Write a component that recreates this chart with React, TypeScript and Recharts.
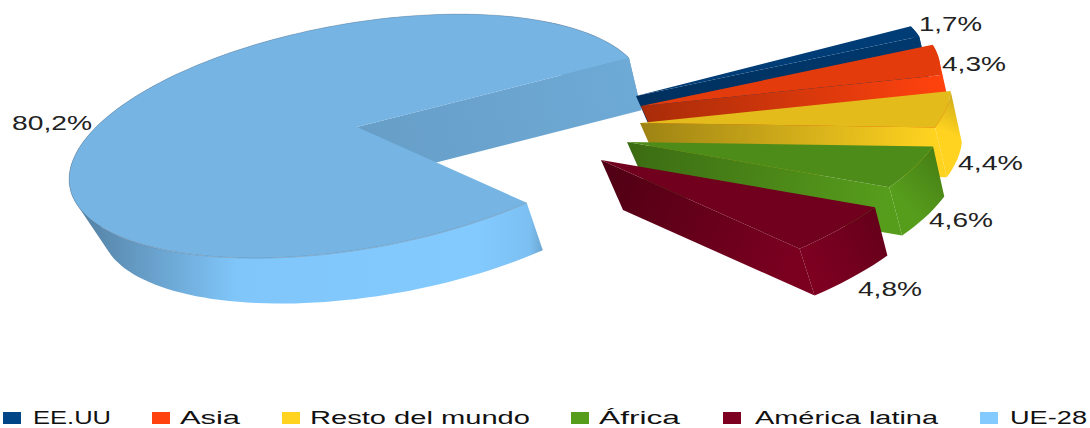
import React from "react";
import { PieChart, Pie, Cell, Legend } from "recharts";

// Pie order starts with the big slice so it paints behind the exploded ones
const categories = ["UE-28", "EE.UU", "Asia", "Resto del mundo", "África", "América latina"];
const shares = [80.2, 1.7, 4.3, 4.4, 4.6, 4.8];
const colors = ["#83caff", "#004586", "#ff420e", "#ffd320", "#579d1c", "#7e0021"];
const legendOrder = [1, 2, 3, 4, 5, 0];

const WIDTH = 1090;
const HEIGHT = 428;
const FONT = "'Liberation Sans', Arial, sans-serif";

// tilted disc: screen vector for the unit x axis and y axis, plus a little perspective
const TILT_C = -0.15;
const TILT_D = 0.395;
const PERSPECTIVE = 0.08;
const EXTRUDE = { x: 22, y: 50 };
const BOTTOM_SCALE = 0.965;

// explosion per slice, in the same order as categories
const explodeX = [0, 279, 284, 283, 270, 244];
const explodeY = [0, -31, -21, -4, 15, 33];
const explodeScale = [1, 1.01, 1.04, 1.08, 1.12, 1.17];

// wall gradient from apex to rim, as brightness factors
const wallFrom = [0.78, 0.7, 0.66, 0.62, 0.68, 0.62];
const wallTo = [0.84, 0.82, 1, 1, 1, 0.98];

// label box: left, baseline, width
const labelLeft = [12, 919, 942, 958, 929, 858];
const labelBase = [130, 31, 71, 170, 227, 296];
const labelWidth = [80, 63, 64, 65, 64, 64];

// legend boxes: swatch left and text span
const swatchLeft = [3, 152, 282, 571, 723, 980];
const legendTextLeft = [33, 180, 310, 599, 755, 1010];
const legendTextWidth = [78, 60, 220, 81, 183, 77];

const shade = (hex: string, f: number) => {
  const n = parseInt(hex.slice(1), 16);
  const ch = (v: number) => Math.min(255, Math.round(v * f));
  return `rgb(${ch((n >> 16) & 255)},${ch((n >> 8) & 255)},${ch(n & 255)})`;
};

type Pt = { x: number; y: number };

const polyD = (pts: Pt[], close = true) =>
  "M" + pts.map((p) => `${p.x.toFixed(1)},${p.y.toFixed(1)}`).join("L") + (close ? "Z" : "");

const SliceShape = (props: any) => {
  const { cx, cy, outerRadius, startAngle, endAngle, index } = props;
  const color = colors[index];
  const ox = cx + explodeX[index];
  const oy = cy + explodeY[index];
  const R = outerRadius * explodeScale[index];

  const rimPoint = (deg: number): Pt => {
    const a = (deg * Math.PI) / 180;
    const u = Math.cos(a);
    const v = -Math.sin(a);
    const w = 1 - PERSPECTIVE * v;
    return { x: (R * u) / w, y: (R * (TILT_C * u + TILT_D * v)) / w };
  };
  const top = (p: Pt): Pt => ({ x: ox + p.x, y: oy + p.y });
  const low = (p: Pt): Pt => ({
    x: ox + EXTRUDE.x + p.x * BOTTOM_SCALE,
    y: oy + EXTRUDE.y + p.y * BOTTOM_SCALE,
  });

  const steps = Math.max(8, Math.ceil(Math.abs(endAngle - startAngle) / 2));
  const rim: Pt[] = [];
  for (let i = 0; i <= steps; i++) {
    rim.push(rimPoint(startAngle + ((endAngle - startAngle) * i) / steps));
  }
  const centre = { x: 0, y: 0 };

  // outer side as one quad per step, all wound the same way so the tangent edges fill in
  let bandD = "";
  for (let i = 0; i < steps; i++) {
    const quad = [top(rim[i]), top(rim[i + 1]), low(rim[i + 1]), low(rim[i])];
    let area = 0;
    quad.forEach((p, k) => {
      const q = quad[(k + 1) % 4];
      area += p.x * q.y - q.x * p.y;
    });
    bandD += polyD(area < 0 ? [...quad].reverse() : quad);
  }

  const mid = rim[Math.floor(steps / 2)];
  const cross = (a: Pt, b: Pt) => a.x * b.y - a.y * b.x;
  // a side wall shows only when the extrusion points away from the slice body
  const wallShows = (edge: Pt) => cross(edge, EXTRUDE) * cross(edge, mid) < 0;

  const first = rim[0];
  const last = rim[rim.length - 1];
  const walls = [first, last].filter(wallShows);
  const bandId = `band-${index}`;
  const isBig = index === 0;
  const xs = rim.map((p) => ox + p.x);

  return (
    <g>
      <defs>
        {walls.map((edge, i) => (
          <linearGradient
            key={i}
            id={`wall-${index}-${i}`}
            gradientUnits="userSpaceOnUse"
            x1={ox}
            y1={oy}
            x2={ox + edge.x}
            y2={oy + edge.y}
          >
            <stop offset="0" stopColor={shade(color, wallFrom[index])} />
            <stop offset="1" stopColor={shade(color, wallTo[index])} />
          </linearGradient>
        ))}
        {isBig ? (
          <linearGradient
            id={bandId}
            gradientUnits="userSpaceOnUse"
            x1={Math.min(...xs)}
            y1={0}
            x2={ox + first.x + EXTRUDE.x}
            y2={0}
          >
            <stop offset="0" stopColor={shade(color, 0.62)} />
            <stop offset="0.08" stopColor={shade(color, 0.7)} />
            <stop offset="0.35" stopColor={shade(color, 0.98)} />
            <stop offset="0.85" stopColor={shade(color, 1)} />
            <stop offset="0.96" stopColor={shade(color, 0.95)} />
            <stop offset="1" stopColor={shade(color, 0.76)} />
          </linearGradient>
        ) : (
          <linearGradient
            id={bandId}
            gradientUnits="userSpaceOnUse"
            x1={ox + first.x}
            y1={oy + first.y}
            x2={ox + last.x}
            y2={oy + last.y}
          >
            <stop offset="0" stopColor={shade(color, 0.8)} />
            <stop offset="1" stopColor={shade(color, 1)} />
          </linearGradient>
        )}
      </defs>
      <path d={bandD} fill={`url(#${bandId})`} />
      {walls.map((edge, i) => (
        <path
          key={i}
          d={polyD([top(centre), top(edge), low(edge), low(centre)])}
          fill={`url(#wall-${index}-${i})`}
        />
      ))}
      <path d={polyD([top(centre), ...rim.map(top)])} fill={shade(color, 0.89)} />
      {isBig && (
        <path d={polyD(rim.map(top), false)} fill="none" stroke="rgba(90,100,115,0.4)" strokeWidth={0.8} />
      )}
    </g>
  );
};

const renderLabel = ({ index }: any) => (
  <text
    x={labelLeft[index]}
    y={labelBase[index]}
    textLength={labelWidth[index]}
    lengthAdjust="spacingAndGlyphs"
    fontFamily={FONT}
    fontSize={19.5}
    fill="#222222"
  >
    {String(shares[index]).replace(".", ",")}%
  </text>
);

const renderLegend = () => (
  <svg width={WIDTH} height={HEIGHT} style={{ display: "block" }}>
    {legendOrder.map((c, i) => (
      <g key={categories[c]}>
        <rect x={swatchLeft[i]} y={412} width={18} height={12} fill={colors[c]} />
        <text
          x={legendTextLeft[i]}
          y={424}
          textLength={legendTextWidth[i]}
          lengthAdjust="spacingAndGlyphs"
          fontFamily={FONT}
          fontSize={18}
          fill="#111111"
        >
          {categories[c]}
        </text>
      </g>
    ))}
  </svg>
);

const data = categories.map((name, i) => ({ name, value: shares[i] }));

export default function App() {
  return (
    <div style={{ position: "absolute", left: 0, top: 0, width: WIDTH, height: HEIGHT, background: "#fff" }}>
      <PieChart width={WIDTH} height={HEIGHT} margin={{ top: 0, right: 0, bottom: 0, left: 0 }}>
        <Legend
          content={renderLegend}
          wrapperStyle={{ position: "absolute", left: 0, top: 0, width: WIDTH, height: HEIGHT, pointerEvents: "none" }}
        />
        <Pie
          data={data}
          dataKey="value"
          nameKey="name"
          cx={357}
          cy={127}
          innerRadius={0}
          outerRadius={287}
          startAngle={-56.5}
          endAngle={-416.5}
          stroke="none"
          shape={SliceShape}
          label={renderLabel}
          labelLine={false}
          isAnimationActive={false}
        >
          {categories.map((c, i) => (
            <Cell key={c} fill={colors[i]} />
          ))}
        </Pie>
      </PieChart>
    </div>
  );
}
